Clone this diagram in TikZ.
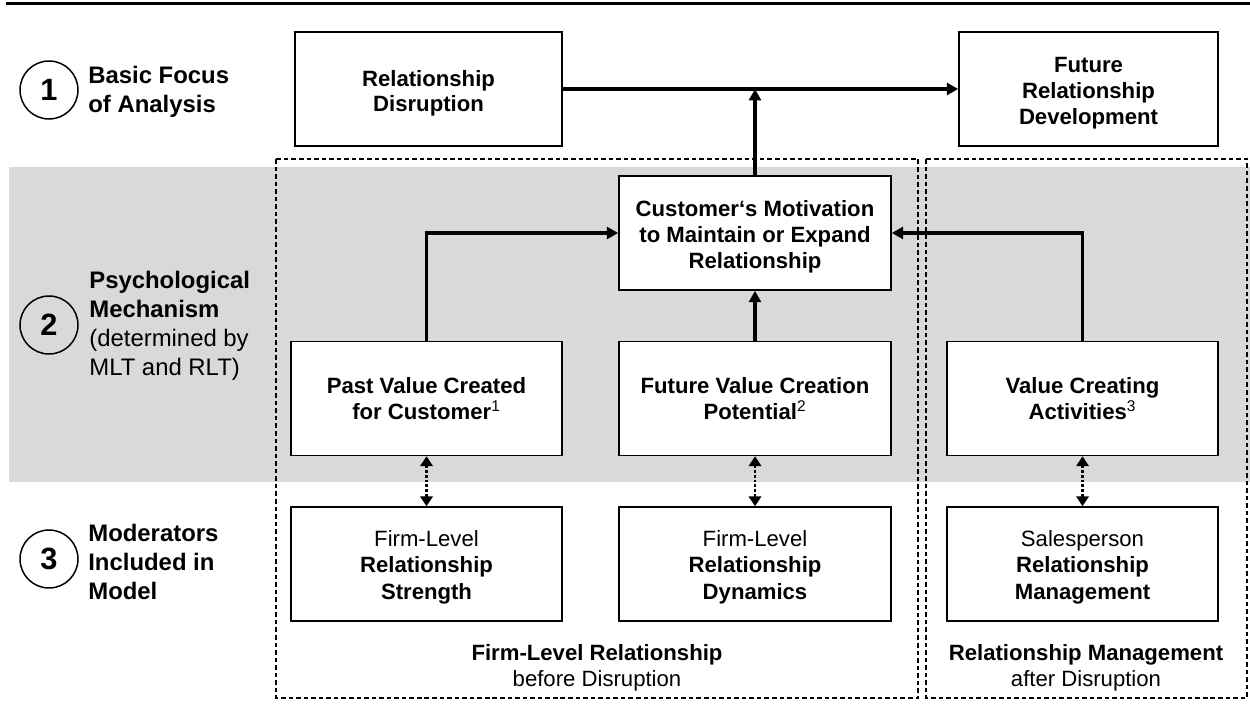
\documentclass[tikz,border=0pt]{standalone}
\usepackage{fontspec}
\setmainfont{Liberation Sans}
\usetikzlibrary{arrows.meta}
\definecolor{bandgray}{RGB}{217,217,217}
\newcommand{\bxtxt}[2][1.6pt]{\raisebox{-#1}[\height][\depth]{\begin{tabular}{@{}c@{}}#2\end{tabular}}}
\begin{document}
\begin{tikzpicture}[x=0.02cm,y=-0.02cm,
  box/.style={draw=black, line width=0.9pt, fill=white, minimum width=5.42cm,
    minimum height=2.28cm, inner sep=0pt,
    font={\fontsize{12.6pt}{14.8pt}\selectfont}},
  circ/.style={circle, draw=black, line width=0.85pt, minimum size=1.16cm, inner sep=0pt,
    font={\fontsize{17.5pt}{17.5pt}\selectfont\bfseries}},
  side/.style={anchor=west, align=left, inner sep=0pt,
    font={\fontsize{13.6pt}{16.4pt}\selectfont}},
  grp/.style={align=center, inner sep=0pt, font={\fontsize{12.6pt}{14.7pt}\selectfont}},
  arr/.style={-{Triangle[width=6.8pt,length=6.5pt]}, line width=1.9pt},
  dotarr/.style={{Triangle[width=7pt,length=5.6pt]}-{Triangle[width=7pt,length=5.6pt]},
    line width=1.6pt, dash pattern=on 1.5pt off 1.2pt},
  dbox/.style={draw=black, line width=0.65pt, dash pattern=on 2.6pt off 1.7pt},
  rule/.style={line width=1.8pt}
]
\useasboundingbox (0,0) rectangle (1250,719);

% top rule
\coordinate (ruleL) at (6,3.5);
\coordinate (ruleR) at (1250,3.5);
\draw[rule] (ruleL) -- (ruleR);

% grey band
\fill[bandgray] (9,167) rectangle (1250,482);

% dashed group frames
\draw[dbox] (276,159) rectangle (918,698);
\draw[dbox] (926,159) rectangle (1247,698);

% left labels
\node[circ] (c1) at (49,90) {1};
\node[side] (l1) at (88,92) {\textbf{Basic Focus}\\\textbf{of Analysis}};
\node[circ] (c2) at (49,325) {2};
\node[side] (l2) at (89,326) {\textbf{Psychological}\\\textbf{Mechanism}\\(determined by\\MLT and RLT)};
\node[circ] (c3) at (49,559) {3};
\node[side] (l3) at (88,562) {\textbf{Moderators}\\\textbf{Included in}\\\textbf{Model}};

% boxes
\node[box, minimum width=5.34cm] (rd) at (428.5,89) {\bxtxt[2.9pt]{\textbf{Relationship}\\[-0.6pt]\textbf{Disruption}}};
\node[box, minimum width=5.18cm] (frd) at (1088.5,89) {\bxtxt[2.6pt]{\textbf{Future}\\\textbf{Relationship}\\\textbf{Development}}};
\node[box, minimum width=5.44cm] (cm) at (755,233) {\bxtxt[2.2pt]{\textbf{Customer‘s Motivation}\\\textbf{to Maintain or Expand}\\\textbf{Relationship}}};
\node[box] (pv) at (426.5,398.5) {\bxtxt{\textbf{Past Value Created}\\\textbf{for Customer}\textsuperscript{1}}};
\node[box, minimum width=5.44cm] (fv) at (755,398.5) {\bxtxt{\textbf{Future Value Creation}\\\textbf{Potential}\textsuperscript{2}}};
\node[box] (vc) at (1082.5,398.5) {\bxtxt{\textbf{Value Creating}\\\textbf{Activities}\textsuperscript{3}}};
\node[box] (rs) at (426.5,564) {\bxtxt[2pt]{Firm-Level\\[0.3pt]\textbf{Relationship}\\[0.3pt]\textbf{Strength}}};
\node[box, minimum width=5.44cm] (rdy) at (755,564) {\bxtxt[2pt]{Firm-Level\\[0.3pt]\textbf{Relationship}\\[0.3pt]\textbf{Dynamics}}};
\node[box] (rm) at (1082.5,564) {\bxtxt[2pt]{Salesperson\\[0.3pt]\textbf{Relationship}\\[0.3pt]\textbf{Management}}};

% group captions
\node[grp] (g1) at (597,668) {\textbf{Firm-Level Relationship}\\before Disruption};
\node[grp] (g2) at (1086,668) {\textbf{Relationship Management}\\after Disruption};

% connectors
\draw[arr] (rd.east) -- (frd.west);
\draw[arr] (cm.north) -- (cm.north |- rd.east);
\draw[arr] (pv.north) |- (cm.west);
\draw[arr] (vc.north) |- (cm.east);
\draw[arr] (fv.north) -- (cm.south);
\draw[dotarr] (pv.south) -- (rs.north);
\draw[dotarr] (fv.south) -- (rdy.north);
\draw[dotarr] (vc.south) -- (rm.north);
\end{tikzpicture}
\end{document}
